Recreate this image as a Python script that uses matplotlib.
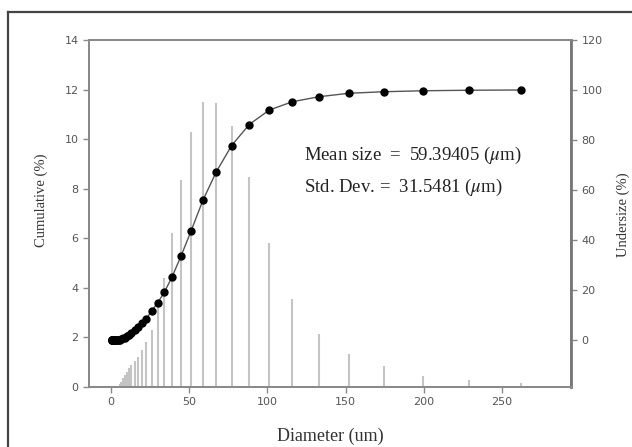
import matplotlib
matplotlib.use("Agg")
import matplotlib.pyplot as plt
from matplotlib.lines import Line2D

# particle size bins (um)
diameter = [0.51, 0.58, 0.67, 0.77, 0.88, 1.01, 1.16, 1.32, 1.51, 1.74, 1.99,
            2.28, 2.60, 2.99, 3.41, 3.92, 4.47, 5.13, 5.87, 6.73, 7.71, 8.82,
            10.10, 11.56, 13.24, 15.17, 17.37, 19.90, 22.79, 26.10, 29.89,
            34.23, 39.20, 44.90, 51.42, 58.88, 67.44, 77.23, 88.45, 101.3,
            116.0, 132.9, 152.2, 174.3, 199.6, 228.6, 261.8]

# frequency per bin (%), left axis
freq = [0, 0, 0, 0, 0, 0, 0, 0, 0, 0, 0,
        0, 0, 0, 0, 0, 0, 0.05, 0.12, 0.22, 0.35, 0.48,
        0.62, 0.76, 0.90, 1.05, 1.22, 1.49, 1.83, 2.31, 3.24,
        4.40, 6.20, 8.35, 10.3, 11.5, 11.44, 10.52, 8.48, 5.79,
        3.54, 2.14, 1.33, 0.85, 0.46, 0.27, 0.16]

# cumulative undersize (%), right axis
undersize = [0, 0, 0, 0, 0, 0, 0, 0, 0, 0, 0,
             0, 0, 0, 0, 0, 0, 0.05, 0.15, 0.35, 0.65, 1.0,
             1.5, 2.2, 3.0, 4.0, 5.2, 6.8, 8.6, 11.6, 14.8,
             19.1, 25.3, 33.6, 43.8, 55.9, 67.3, 77.8, 86.2, 92.0,
             95.3, 97.3, 98.7, 99.3, 99.7, 99.9, 100.0]

W, H = 632, 447
plt.rcParams['mathtext.fontset'] = 'stix'
fig = plt.figure(figsize=(W / 100, H / 100), dpi=100)

def fx(px):
    return px / W

def fy(py):
    return 1 - py / H

ax = fig.add_axes([fx(89), fy(387), fx(571) - fx(89), fy(40) - fy(387)])
ax2 = ax.twinx()

# bars
ax.vlines(diameter, 0, freq, colors='#c4c4c4', linewidth=1.5)
ax.set_xlim(-13.9, 294)
ax.set_ylim(0, 14)
ax.set_yticks(range(0, 15, 2))
ax.set_xticks(range(0, 251, 50))

# cumulative curve
ax2.plot(diameter, undersize, color='#555555', lw=1.0, marker='o',
         markersize=5, markerfacecolor='black', markeredgecolor='black')
ax2.set_ylim(-18.8, 120)
ax2.set_yticks(range(0, 121, 20))

for a in (ax, ax2):
    for s in a.spines.values():
        s.set_color('#8a8a8a')
        s.set_linewidth(1.4)
    a.tick_params(colors='#8a8a8a', labelcolor='#555555', length=4,
                  width=1, labelsize=8)
ax2.spines['right'].set_color('#777777')
ax2.spines['right'].set_linewidth(2.0)
for lbl in ax.get_xticklabels() + ax.get_yticklabels() + ax2.get_yticklabels():
    lbl.set_family('DejaVu Sans')

serif = 'Liberation Serif'
fig.text(fx(41), fy(200), 'Cumulative (%)', rotation=90, ha='center',
         va='center', family=serif, fontsize=10.5, color='#333333')
fig.text(fx(623), fy(215), 'Undersize (%)', rotation=90, ha='center',
         va='center', family=serif, fontsize=10.5, color='#333333')
fig.text(fx(330), fy(436), 'Diameter (um)', ha='center', va='center',
         family=serif, fontsize=13, color='#333333')

fig.text(fx(304), fy(155), r'Mean size  =  59.39405 ($\mu$m)', ha='left',
         va='center', family=serif, fontsize=13.5, color='#222222')
fig.text(fx(304), fy(187), r'Std. Dev. =  31.5481 ($\mu$m)', ha='left',
         va='center', family=serif, fontsize=13.5, color='#222222')

# outer frame
fig.add_artist(Line2D([fx(8), 1], [fy(12), fy(12)], color='#444444', lw=1.6))
fig.add_artist(Line2D([fx(8), fx(8)], [fy(12), 0], color='#444444', lw=1.6))

fig.savefig('out.png', dpi=100)
